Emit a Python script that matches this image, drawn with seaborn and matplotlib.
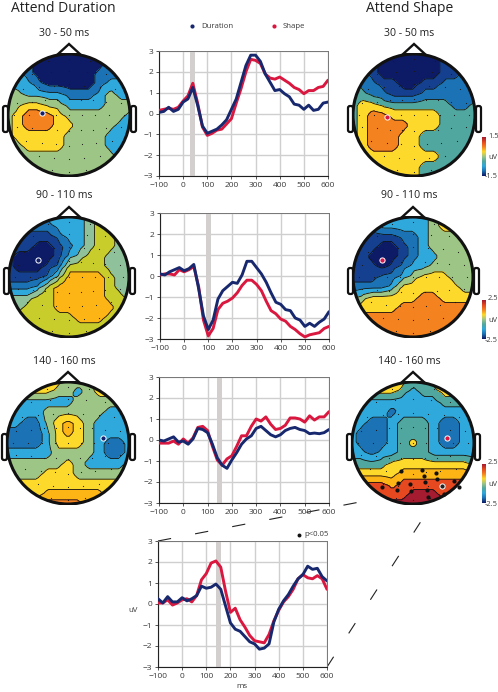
import matplotlib
matplotlib.use("Agg")
import matplotlib.pyplot as plt
import numpy as np
import pandas as pd
import seaborn as sns
from matplotlib.patches import Circle, FancyBboxPatch, Polygon

W, H = 498, 692

# ERP traces, every 20 ms
ms = list(range(-100, 601, 20))

dur_30 = [0.05, 0.1, 0.3, 0.1, 0.2, 0.55, 0.7, 1.25, 0.4, -0.6, -0.95, -0.85, -0.75, -0.55, -0.3, 0.2, 0.7, 1.5,
          2.3, 2.8, 2.8, 2.5, 1.9, 1.5, 1.1, 1.15, 0.95, 0.8, 0.45, 0.4, 0.2, 0.4, 0.15, 0.2, 0.5, 0.55]
shp_30 = [0.15, 0.2, 0.25, 0.2, 0.3, 0.6, 0.85, 1.45, 0.5, -0.65, -1.05, -0.95, -0.8, -0.75, -0.5, -0.25, 0.5, 1.2,
          2.0, 2.6, 2.55, 2.4, 1.9, 1.7, 1.65, 1.75, 1.6, 1.45, 1.25, 1.15, 0.95, 1.1, 1.1, 1.25, 1.3, 1.6]
dur_90 = [0.1, 0.05, 0.2, 0.3, 0.4, 0.25, 0.35, 0.55, -0.6, -1.9, -2.55, -2.1, -1.1, -0.7, -0.5, -0.3, -0.35, 0.05,
          0.7, 0.7, 0.4, 0.1, -0.3, -0.8, -1.25, -1.35, -1.6, -1.65, -2.0, -2.1, -2.4, -2.25, -2.4, -2.2, -2.05, -1.7]
shp_90 = [0.05, 0.1, 0.1, 0.05, 0.3, 0.2, 0.3, 0.45, -0.5, -2.1, -2.85, -2.5, -1.6, -1.3, -1.2, -1.05, -0.8, -0.45,
          -0.2, -0.2, -0.4, -0.7, -1.2, -1.65, -1.8, -2.05, -2.15, -2.4, -2.55, -2.75, -2.9, -2.8, -2.75, -2.7, -2.5, -2.4]
dur_140 = [0.0, -0.05, 0.05, 0.15, -0.1, -0.05, -0.2, 0.05, 0.55, 0.5, 0.35, -0.2, -0.85, -1.2, -1.35, -0.95, -0.6, -0.2,
           0.05, 0.2, 0.55, 0.65, 0.45, 0.25, 0.15, 0.25, 0.45, 0.55, 0.6, 0.5, 0.45, 0.3, 0.33, 0.3, 0.35, 0.5]
shp_140 = [-0.15, -0.15, -0.15, -0.05, -0.2, 0.05, -0.15, 0.1, 0.6, 0.65, 0.45, -0.3, -0.95, -1.2, -0.9, -0.75, -0.3, 0.2,
           0.2, 0.65, 1.0, 0.9, 1.1, 0.75, 0.5, 0.55, 0.7, 1.05, 1.05, 1.0, 0.85, 1.15, 0.95, 1.1, 1.1, 1.35]
dur_sig = [0.25, 0.05, 0.35, 0.1, 0.1, 0.3, 0.15, 0.25, 0.4, 0.85, 0.75, 0.8, 0.95, 0.7, -0.1, -0.9, -1.2, -1.3,
           -1.55, -1.8, -1.9, -2.15, -2.1, -1.9, -0.85, -0.25, 0.15, 0.45, 0.85, 1.2, 1.4, 1.8, 1.65, 1.7, 1.3, 1.1]
shp_sig = [0.05, 0.05, 0.2, -0.05, 0.05, 0.2, 0.25, 0.1, 0.4, 1.15, 1.45, 1.95, 2.05, 1.75, 0.6, -0.4, -0.2, -0.75,
           -1.1, -1.5, -1.75, -1.8, -1.85, -1.45, -0.8, -0.3, 0.1, 0.35, 0.7, 1.2, 1.4, 1.25, 1.2, 1.35, 1.2, 0.7]

windows = [(30, 50), (90, 110), (140, 160), (140, 160)]
x_ticks = [-100, 0, 100, 200, 300, 400, 500, 600]
y_ticks = [-3, -2, -1, 0, 1, 2, 3]

# topo maps: contour band index on a 13 x 13 raster across the head, top row first
topo_dur_30 = [
    [1, 1, 1, 0, 0, 0, 0, 0, 0, 0, 1, 1, 1],
    [2, 2, 1, 0, 0, 0, 0, 0, 0, 0, 1, 1, 2],
    [2, 2, 1, 0, 0, 0, 0, 0, 0, 1, 1, 1, 2],
    [2, 2, 2, 1, 0, 0, 0, 0, 0, 1, 2, 2, 3],
    [3, 3, 2, 2, 2, 2, 1, 1, 1, 2, 3, 2, 2],
    [3, 3, 4, 4, 3, 3, 2, 2, 2, 2, 3, 3, 3],
    [3, 4, 5, 5, 5, 4, 3, 3, 3, 3, 3, 3, 2],
    [3, 4, 5, 5, 5, 4, 4, 3, 3, 3, 3, 2, 2],
    [3, 4, 4, 4, 4, 4, 3, 3, 3, 3, 2, 2, 2],
    [3, 3, 4, 4, 4, 4, 3, 3, 3, 3, 2, 2, 2],
    [3, 3, 3, 3, 3, 3, 3, 3, 3, 3, 3, 2, 2],
    [3, 3, 3, 3, 3, 3, 3, 3, 3, 3, 3, 3, 3],
    [3, 3, 3, 3, 3, 3, 3, 3, 3, 3, 3, 3, 3],
]
topo_shp_30 = [
    [1, 1, 1, 0, 0, 0, 0, 0, 0, 1, 1, 1, 1],
    [2, 1, 1, 0, 0, 0, 0, 0, 0, 1, 1, 2, 2],
    [2, 2, 1, 0, 0, 0, 0, 0, 0, 1, 1, 2, 2],
    [3, 2, 2, 1, 1, 0, 0, 1, 1, 2, 2, 2, 2],
    [3, 3, 2, 2, 1, 1, 1, 2, 2, 2, 2, 2, 2],
    [3, 4, 4, 3, 3, 3, 3, 3, 3, 3, 2, 2, 3],
    [3, 4, 5, 5, 4, 4, 4, 4, 4, 3, 3, 3, 3],
    [3, 4, 5, 5, 5, 5, 4, 4, 4, 3, 3, 3, 3],
    [3, 4, 5, 5, 5, 4, 4, 3, 3, 3, 3, 3, 3],
    [3, 4, 5, 5, 5, 4, 4, 3, 3, 3, 3, 3, 3],
    [3, 4, 4, 4, 4, 4, 4, 4, 4, 3, 3, 3, 3],
    [3, 3, 4, 4, 4, 4, 4, 3, 3, 3, 3, 3, 3],
    [3, 3, 3, 4, 4, 4, 4, 3, 3, 3, 3, 3, 3],
]
topo_dur_90 = [
    [2, 2, 2, 2, 3, 3, 3, 3, 4, 5, 5, 4, 4],
    [2, 2, 2, 2, 2, 3, 3, 3, 4, 5, 5, 4, 4],
    [1, 1, 1, 1, 1, 2, 3, 3, 4, 5, 5, 4, 4],
    [1, 1, 1, 0, 0, 1, 2, 3, 4, 5, 5, 4, 4],
    [1, 0, 0, 0, 0, 1, 3, 4, 5, 5, 4, 4, 4],
    [1, 0, 0, 0, 1, 2, 5, 5, 5, 5, 4, 4, 4],
    [1, 1, 1, 1, 2, 4, 6, 6, 6, 6, 5, 4, 4],
    [2, 2, 2, 3, 5, 6, 6, 6, 6, 6, 5, 4, 4],
    [4, 4, 4, 5, 5, 6, 6, 6, 6, 6, 5, 5, 4],
    [4, 4, 5, 5, 5, 6, 6, 6, 6, 6, 6, 5, 5],
    [5, 5, 5, 5, 5, 5, 5, 6, 6, 6, 5, 5, 5],
    [5, 5, 5, 5, 5, 5, 5, 5, 5, 5, 5, 5, 5],
    [5, 5, 5, 5, 5, 5, 5, 5, 5, 5, 5, 5, 5],
]
topo_shp_90 = [
    [2, 2, 2, 2, 3, 3, 3, 3, 4, 5, 4, 4, 4],
    [2, 2, 2, 3, 3, 3, 3, 3, 4, 5, 5, 4, 4],
    [2, 2, 1, 1, 1, 2, 2, 3, 4, 4, 4, 4, 4],
    [1, 1, 1, 0, 0, 1, 2, 3, 4, 4, 4, 4, 4],
    [1, 1, 0, 0, 0, 1, 2, 3, 3, 4, 4, 4, 4],
    [1, 1, 1, 0, 1, 2, 3, 3, 4, 4, 4, 4, 4],
    [1, 1, 1, 2, 2, 3, 4, 5, 5, 5, 4, 4, 4],
    [2, 2, 2, 2, 3, 5, 5, 5, 5, 5, 5, 4, 4],
    [3, 4, 5, 5, 5, 5, 5, 6, 6, 5, 5, 5, 5],
    [5, 5, 5, 5, 5, 6, 6, 6, 6, 6, 6, 6, 6],
    [5, 6, 6, 6, 6, 6, 6, 6, 6, 6, 6, 6, 6],
    [6, 6, 6, 6, 6, 6, 6, 6, 6, 6, 6, 6, 6],
    [6, 6, 6, 6, 6, 6, 6, 6, 6, 6, 6, 6, 6],
]
topo_dur_140 = [
    [3, 3, 3, 3, 3, 3, 2, 2, 2, 3, 2, 2, 2],
    [1, 1, 3, 3, 3, 2, 2, 1, 2, 3, 3, 2, 2],
    [1, 1, 1, 1, 1, 1, 1, 2, 2, 2, 2, 2, 2],
    [1, 1, 1, 1, 2, 2, 2, 2, 2, 2, 1, 1, 1],
    [1, 1, 0, 0, 2, 3, 4, 3, 2, 1, 1, 1, 1],
    [0, 0, 0, 0, 1, 3, 4, 3, 2, 1, 1, 1, 1],
    [0, 0, 0, 0, 1, 3, 3, 3, 2, 1, 0, 0, 1],
    [1, 1, 1, 1, 1, 2, 2, 2, 2, 1, 0, 0, 1],
    [2, 2, 2, 2, 2, 2, 3, 2, 1, 1, 1, 1, 2],
    [2, 2, 2, 2, 3, 3, 3, 2, 2, 2, 2, 2, 2],
    [3, 3, 3, 3, 3, 3, 3, 3, 3, 3, 3, 3, 3],
    [3, 3, 3, 3, 4, 4, 4, 4, 4, 4, 3, 3, 3],
    [3, 3, 4, 4, 5, 5, 5, 5, 4, 4, 4, 3, 3],
]
topo_shp_140 = [
    [2, 2, 3, 3, 3, 3, 2, 2, 3, 3, 3, 3, 2],
    [1, 2, 3, 3, 3, 2, 1, 2, 2, 3, 3, 2, 2],
    [1, 1, 1, 1, 1, 1, 1, 1, 1, 2, 2, 2, 2],
    [1, 1, 1, 1, 0, 1, 1, 1, 1, 1, 1, 1, 1],
    [1, 1, 0, 0, 1, 2, 2, 2, 1, 0, 0, 1, 1],
    [1, 0, 0, 0, 1, 2, 2, 2, 1, 0, 0, 1, 1],
    [1, 0, 0, 0, 1, 2, 3, 2, 1, 0, 0, 1, 1],
    [1, 1, 0, 1, 1, 2, 2, 2, 1, 1, 1, 1, 1],
    [2, 2, 2, 2, 3, 3, 3, 3, 3, 3, 3, 3, 2],
    [3, 3, 3, 3, 3, 4, 4, 4, 4, 4, 4, 4, 4],
    [5, 5, 5, 5, 4, 5, 5, 5, 5, 5, 5, 5, 5],
    [5, 5, 5, 5, 5, 5, 6, 6, 6, 5, 5, 5, 5],
    [6, 6, 6, 6, 6, 6, 6, 6, 6, 6, 6, 6, 6],
]

navy = "#0d1b66"
deep = "#15408f"
mid = "#1b72b5"
sky = "#2fa8dc"
teal = "#4fa7a0"
sage = "#8fc29a"
green = "#9dc585"
lime = "#c8cd2c"
yellow = "#fdd92b"
amber = "#fdb515"
orange = "#f4821f"
red_or = "#e6491f"
maroon = "#a51c30"

bands_dur_30 = [navy, mid, sky, green, yellow, orange]
bands_shp_30 = [navy, deep, mid, teal, yellow, orange]
bands_dur_90 = [navy, deep, mid, sky, sage, lime, amber]
bands_shp_90 = [navy, deep, mid, sky, green, yellow, orange]
bands_dur_140 = [mid, sky, green, yellow, amber, orange]
bands_shp_140 = [mid, sky, teal, yellow, amber, red_or, maroon]

# channel montage in head units (shared by every map)
elec_x = [-0.35, 0.0, 0.35, -0.6, -0.3, 0.0, 0.3, 0.6, -0.75, -0.5, -0.25, 0.0, 0.25, 0.5, 0.75,
          -0.85, -0.6, -0.4, -0.2, 0.0, 0.2, 0.4, 0.6, 0.85, -0.9, -0.65, -0.43, -0.22, 0.0, 0.22, 0.43, 0.65, 0.9,
          -0.85, -0.6, -0.4, -0.2, 0.0, 0.2, 0.4, 0.6, 0.85, -0.7, -0.45, -0.22, 0.0, 0.22, 0.45, 0.7,
          -0.5, -0.25, 0.0, 0.25, 0.5, -0.28, 0.0, 0.28]
elec_y = [0.88, 0.92, 0.88, 0.68, 0.7, 0.72, 0.7, 0.68, 0.42, 0.46, 0.48, 0.5, 0.48, 0.46, 0.42,
          0.2, 0.22, 0.24, 0.25, 0.26, 0.25, 0.24, 0.22, 0.2, 0.0, 0.0, 0.0, 0.0, 0.0, 0.0, 0.0, 0.0, 0.0,
          -0.2, -0.22, -0.24, -0.25, -0.26, -0.25, -0.24, -0.22, -0.2, -0.42, -0.46, -0.48, -0.5, -0.48, -0.46, -0.42,
          -0.68, -0.7, -0.72, -0.7, -0.68, -0.9, -0.93, -0.9]

# significant channels on the last map
sig_x = [-0.19, 0.15, 0.37, 0.18, 0.40, 0.68, -0.25, -0.05, -0.51, 0.20, -0.26, -0.04, 0.23, 0.51, 0.25, 0.76]
sig_y = [-0.46, -0.44, -0.49, -0.54, -0.59, -0.62, -0.65, -0.67, -0.72, -0.64, -0.77, -0.79, -0.77, -0.83, -0.89, -0.72]

sns.set_style("white")
plt.rcParams['font.family'] = ['Open Sans', 'DejaVu Sans']

fig = plt.figure(figsize=(W / 100, H / 100), dpi=100)
dark_blue = "#17286e"
dark_red = "#d9173f"
tick_col = "#3a3a3a"


def px_axes(x0, x1, top, bottom, **kw):
    return fig.add_axes([x0 / W, 1 - bottom / H, (x1 - x0) / W, (bottom - top) / H], **kw)


def erp_panel(x0, x1, top, bottom, dur, shp, win):
    ax = px_axes(x0, x1, top, bottom)
    df = pd.DataFrame({
        "ms": ms * 2,
        "uV": shp + dur,
        "cond": ["Shape"] * len(shp) + ["Duration"] * len(dur),
    })
    ax.axvspan(win[0], win[1], color="#d3cfcf", lw=0, zorder=1.5)
    sns.lineplot(data=df, x="ms", y="uV", hue="cond", hue_order=["Shape", "Duration"],
                 palette=[dark_red, dark_blue], lw=2.1, legend=False, errorbar=None, ax=ax, zorder=3)
    ax.set_xlim(-100, 600)
    ax.set_ylim(-3, 3)
    ax.set_xticks(x_ticks)
    ax.set_yticks(y_ticks)
    ax.grid(True, color="#cfcfcf", lw=1.0)
    ax.set_axisbelow(True)
    ax.set_xlabel("")
    ax.set_ylabel("")
    for side in ["top", "right"]:
        ax.spines[side].set_color("#777777")
        ax.spines[side].set_linewidth(0.7)
    for side in ["left", "bottom"]:
        ax.spines[side].set_color("#222222")
        ax.spines[side].set_linewidth(0.8)
    ax.tick_params(length=2, width=0.6, pad=2, labelsize=6, colors=tick_col, left=True, bottom=True)
    return ax


def smooth(grid):
    arr = np.kron(np.asarray(grid, dtype=float), np.ones((4, 4)))
    kernel = np.ones(5) / 5
    pad = np.pad(arr, 4, mode="edge")
    pad = np.apply_along_axis(lambda r: np.convolve(r, kernel, mode="same"), 0, pad)
    pad = np.apply_along_axis(lambda r: np.convolve(r, kernel, mode="same"), 1, pad)
    return pad[4:-4, 4:-4]


def head(cx, cy, r, grid, bands, marks, sig=False):
    size = r * 1.02
    ax = px_axes(cx - size, cx + size, cy - size, cy + size)
    ax.set_xlim(-1.02, 1.02)
    ax.set_ylim(-1.02, 1.02)
    ax.axis("off")
    z = smooth(grid)
    gx = np.linspace(-1.08, 1.08, z.shape[1])
    gy = np.linspace(1.08, -1.08, z.shape[0])
    lev = np.arange(len(bands) + 1) - 0.5
    clip = Circle((0, 0), 1.0, transform=ax.transData)
    cf = ax.contourf(gx, gy, z, levels=lev, colors=bands)
    cl = ax.contour(gx, gy, z, levels=lev[1:-1], colors="#111111", linewidths=0.6)
    cf.set_clip_path(clip)
    cl.set_clip_path(clip)
    ax.scatter(elec_x, elec_y, s=0.7, c="#1a1a1a", lw=0, zorder=4)
    if sig:
        ax.scatter(sig_x, sig_y, s=9, c="#111111", lw=0, zorder=5, clip_on=False)
    for mx, my, col in marks:
        ax.scatter([mx], [my], s=14, c=col, edgecolors="white", linewidths=0.7, zorder=6)
    ax.add_patch(Circle((0, 0), 1.0, fc="none", ec="#111111", lw=2.2, zorder=7))


panels = [
    (159, 328, 51, 176, dur_30, shp_30),
    (160, 329, 213, 339, dur_90, shp_90),
    (159, 329, 377, 503, dur_140, shp_140),
    (158, 327, 541, 667, dur_sig, shp_sig),
]
for (x0, x1, top, bottom, d, s), w in zip(panels, windows):
    erp_panel(x0, x1, top, bottom, d, s, w)

# backdrop in pixel coords for ears, noses, text and the dashed connectors
over = fig.add_axes([0, 0, 1, 1], zorder=-1)
over.set_xlim(0, W)
over.set_ylim(H, 0)
over.axis("off")

heads = [
    (69, 115, 61, topo_dur_30, bands_dur_30, [(-0.44, 0.03, "#13206e")], False),
    (414, 115, 61, topo_shp_30, bands_shp_30, [(-0.44, -0.03, "#d9173f")], False),
    (69, 277, 60, topo_dur_90, bands_dur_90, [(-0.51, 0.28, "#13206e")], False),
    (413, 277, 60, topo_shp_90, bands_shp_90, [(-0.51, 0.28, "#d9174f")], False),
    (68, 443, 61, topo_dur_140, bands_dur_140, [(0.57, 0.09, "#13206e")], False),
    (413, 443, 61, topo_shp_140, bands_shp_140, [(0.55, 0.08, "#d9173f"), (0.47, -0.70, "#222222")], True),
]
for cx, cy, r, grid, bands, marks, sig in heads:
    head(cx, cy, r, grid, bands, marks, sig)
    over.add_patch(Polygon([(cx - 12, cy - r + 1), (cx, cy - r - 10), (cx + 12, cy - r + 1)],
                           closed=False, fc="white", ec="#111111", lw=1.7))
    over.add_patch(FancyBboxPatch((cx - r - 5, cy - 9), 5, 26, boxstyle="round,pad=0,rounding_size=2",
                                  fc="white", ec="#111111", lw=1.6))
    over.add_patch(FancyBboxPatch((cx + r + 1, cy - 9), 5, 26, boxstyle="round,pad=0,rounding_size=2",
                                  fc="white", ec="#111111", lw=1.6))

# dashed connectors from the last map to the lower panel
over.plot([158, 365], [541, 501], color="#222222", lw=0.8, dashes=(12, 22))
over.plot([327, 427], [667, 512], color="#222222", lw=0.8, dashes=(11, 25))

over.text(11, 8, "Attend Duration", fontsize=10, color="#222222", va="center", ha="left")
over.text(366, 8, "Attend Shape", fontsize=10, color="#222222", va="center", ha="left")
for cx, cy, label in [(64, 33, "30 - 50 ms"), (409, 33, "30 - 50 ms"),
                      (64, 196, "90 - 110 ms"), (409, 196, "90 - 110 ms"),
                      (64, 361, "140 - 160 ms"), (409, 362, "140 - 160 ms")]:
    over.text(cx, cy, label, fontsize=7.6, color="#222222", ha="center", va="center")

over.scatter([192], [26], s=9, c=dark_blue, lw=0)
over.text(201, 26, "Duration", fontsize=5.6, color=tick_col, va="center")
over.scatter([274], [26], s=9, c=dark_red, lw=0)
over.text(283, 26, "Shape", fontsize=5.6, color=tick_col, va="center")
over.scatter([299], [535], s=8, c="#111111", lw=0)
over.text(304, 534, "p<0.05", fontsize=5.6, color=tick_col, va="center")
over.text(133, 610, "uV", fontsize=5.6, color=tick_col, va="center", ha="center")
over.text(242, 687, "ms", fontsize=5.8, color=tick_col, va="center", ha="center")

# voltage colour bars
bar_cmap = sns.blend_palette([navy, mid, sky, teal, green, yellow, orange, red_or, maroon], n_colors=64, as_cmap=True)
bars = [(137, 176, "1.5", "-1.5"), (300, 339, "2.5", "-2.5"), (464, 503, "2.5", "-2.5")]
for top, bottom, hi, lo in bars:
    cax = px_axes(482, 486, top, bottom)
    cax.imshow(np.linspace(1, 0, 64)[:, None], cmap=bar_cmap, aspect="auto")
    cax.axis("off")
    over.text(488, top - 1, hi, fontsize=5.4, color=tick_col, va="center")
    over.text(488, (top + bottom) / 2 + 1, "uV", fontsize=5.4, color=tick_col, va="center")
    over.text(485, bottom + 1, lo, fontsize=5.4, color=tick_col, va="center")

fig.savefig("out.png", dpi=100)
